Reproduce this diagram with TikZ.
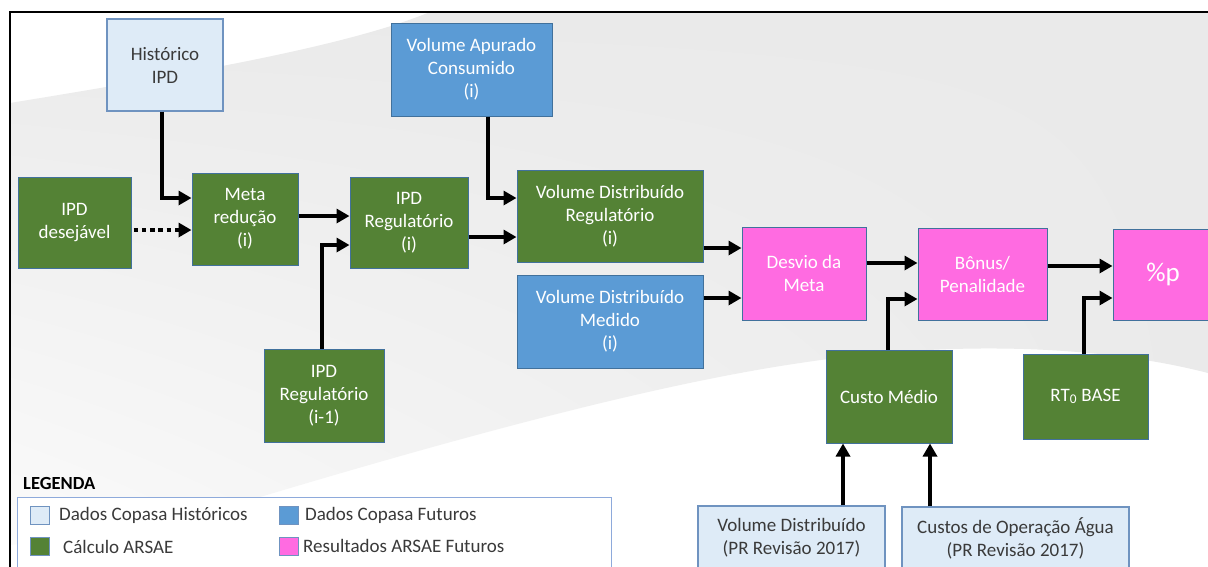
\documentclass[tikz,border=0pt]{standalone}
\usepackage{fontspec}
\setmainfont{Carlito}
\usetikzlibrary{arrows.meta,shadings}
\definecolor{grn}{HTML}{548235}
\definecolor{blu}{HTML}{5B9BD5}
\definecolor{lblu}{HTML}{DEEBF7}
\definecolor{pnk}{HTML}{FF6BE1}
\definecolor{bordc}{HTML}{41719C}
\definecolor{lbord}{HTML}{6F93C0}
\definecolor{legb}{HTML}{8EAADB}
\definecolor{dtext}{HTML}{3A3A3A}
\definecolor{bandgray}{HTML}{EAEAEA}
\tikzset{
  box/.style={draw=bordc, line width=1pt, inner sep=0pt, align=center,
    font=\fontsize{19}{23}\selectfont},
  gbox/.style={box, fill=grn, text=white},
  bbox/.style={box, fill=blu, text=white},
  lbox/.style={box, draw=lbord, line width=1.3pt, fill=lblu, text=dtext},
  pbox/.style={box, fill=pnk, text=white},
  arr/.style={line width=4.2pt, -{Triangle[length=13pt,width=14pt]}},
  dotarr/.style={arr, dash pattern=on 4.5pt off 3.8pt},
  swatch/.style={draw=lbord, line width=1pt, minimum width=19pt, minimum height=18pt, inner sep=0pt},
  legtext/.style={anchor=west, inner sep=0pt, text=dtext, font=\fontsize{19}{23}\selectfont}
}
\begin{document}
\begin{tikzpicture}[x=1pt,y=-1pt]
\useasboundingbox (0,0) rectangle (1208,566);
\fill[white] (0,0) rectangle (1208,566);
% background band
\shade[upper left=bandgray, upper right=bandgray, lower right=bandgray, lower left=bandgray!20!white]
  (10,103) .. controls (200,72) and (350,45) .. (430,12) -- (1208,12) -- (1208,373)
  .. controls (1100,345) and (950,340) .. (800,363)
  .. controls (650,385) and (450,440) .. (250,500)
  .. controls (150,525) and (60,540) .. (10,545) -- cycle;
% frame
\draw[line width=2pt] (10,570) -- (10,12) -- (1212,12);

% nodes
\node[lbox, minimum width=116pt, minimum height=92pt] (hist) at (165,65) {Histórico\\IPD};
\node[gbox, minimum width=113pt, minimum height=91pt] (desej) at (74.5,222.5) {IPD\\desejável};
\node[gbox, minimum width=106pt, minimum height=92pt] (meta) at (245,219) {Meta\\redução\\(i)};
\node[gbox, minimum width=118pt, minimum height=91pt] (ipdr) at (409,222.5) {IPD\\Regulatório\\(i)};
\node[gbox, minimum width=120pt, minimum height=93pt] (ipdr1) at (324,395.5) {IPD\\Regulatório\\(i-1)};
\node[bbox, minimum width=161pt, minimum height=93pt] (vac) at (471.5,69.5) {Volume Apurado\\Consumido\\(i)};
\node[gbox, minimum width=186pt, minimum height=92pt] (vdr) at (610,216) {Volume Distribuído\\Regulatório\\(i)};
\node[bbox, minimum width=186pt, minimum height=93pt] (vdm) at (610,321.5) {Volume Distribuído\\Medido\\(i)};
\node[pbox, minimum width=124pt, minimum height=93pt] (desvio) at (804,273.5) {Desvio da\\Meta};
\node[pbox, minimum width=129pt, minimum height=92pt] (bonus) at (982.5,274) {Bônus/\\Penalidade};
\node[pbox, minimum width=100pt, minimum height=91pt, font=\fontsize{27}{30}\selectfont] (pp) at (1163,274.5) {\%p};
\node[gbox, minimum width=126pt, minimum height=93pt] (cm) at (889,396.5) {Custo Médio};
\node[gbox, minimum width=125pt, minimum height=85pt] (rt) at (1085.5,396.5) {RT\textsubscript{0} BASE};
\node[lbox, minimum width=187pt, minimum height=64pt] (vdpr) at (791.5,538) {Volume Distribuído\\(PR Revisão 2017)};
\node[lbox, minimum width=227pt, minimum height=63pt] (custos) at (1015.5,538.5) {Custos de Operação Água\\(PR Revisão 2017)};

% connectors
\draw[arr] (hist.south -| 162,0) |- (meta.west |- 0,198);
\draw[dotarr] ([xshift=2pt]desej.east |- 0,230) -- (meta.west |- 0,230);
\draw[arr] (meta.east |- 0,216) -- (ipdr.west |- 0,216);
\draw[arr] (ipdr1.north -| 322,0) |- (ipdr.west |- 0,245);
\draw[arr] (ipdr.east |- 0,237) -- (vdr.west |- 0,237);
\draw[arr] (vac.south -| 488,0) |- (vdr.west |- 0,198);
\draw[arr] (vdr.east |- 0,248) -- (desvio.west |- 0,248);
\draw[arr] (vdm.east |- 0,298) -- (desvio.west |- 0,298);
\draw[arr] (desvio.east |- 0,263) -- (bonus.west |- 0,263);
\draw[arr] (cm.north -| 888,0) |- (bonus.west |- 0,299);
\draw[arr] (bonus.east |- 0,266) -- (pp.west |- 0,266);
\draw[arr] (rt.north -| 1084,0) |- (pp.west |- 0,298);
\draw[arr] (vdpr.north -| 843,0) -- (cm.south -| 843,0);
\draw[arr] (custos.north -| 930,0) -- (cm.south -| 930,0);

% legend
\node[anchor=west, inner sep=0pt, text=black, font=\bfseries\fontsize{18.5}{22}\selectfont] (legt) at (23,483) {LEGENDA};
\node[draw=legb, line width=1.3pt, fill=white, minimum width=594pt, minimum height=85pt, anchor=north west, inner sep=0pt] (legbox) at (17,497) {};
\node[swatch, fill=lblu] (s1) at (40,515) {};
\node[swatch, fill=grn] (s2) at (40,546) {};
\node[swatch, fill=blu] (s3) at (288.5,515) {};
\node[swatch, fill=pnk] (s4) at (288.5,546) {};
\node[legtext] (t1) at (59,515) {Dados Copasa Históricos};
\node[legtext] (t2) at (63,547) {Cálculo ARSAE};
\node[legtext] (t3) at (305,515) {Dados Copasa Futuros};
\node[legtext] (t4) at (303,546) {Resultados ARSAE Futuros};
\end{tikzpicture}
\end{document}
